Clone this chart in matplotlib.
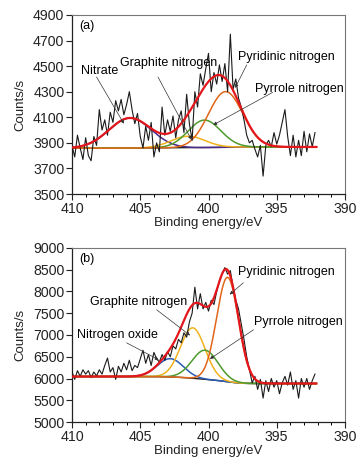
import numpy as np
import matplotlib
matplotlib.use("Agg")
import matplotlib.pyplot as plt
from matplotlib.ticker import MultipleLocator

plt.rcParams['font.family'] = ['Liberation Sans', 'DejaVu Sans']

# ---------------- data ----------------
energy_start, energy_step = 410.0, 0.2   # raw spectrum grid (eV)

raw_a = [3880, 3790, 3960, 3860, 3770, 3940, 3800, 3760, 3950, 3880,
         4160, 4000, 4080, 3960, 4140, 4060, 4230, 4150, 4240, 4120,
         4200, 4300, 4160, 4050, 4130, 3950, 3860, 4030, 3920, 4060,
         3790, 3900, 3830, 4180, 3960, 4080, 3990, 4110, 3940, 4080,
         4150, 3980, 4280, 4050, 3920, 4300, 4180, 4440, 4350, 4480,
         4600, 4300, 4450, 4360, 4510, 4380, 4520, 4300, 4750, 4320,
         4400, 4250, 4180, 4080, 3960, 3900, 3920, 3850, 3790, 3880,
         3640, 3880, 3920, 3870, 3980, 3890, 3960, 4060, 4160, 3950,
         3800, 3960, 3790, 3920, 3800, 3990, 3830, 3970, 3870, 3980]

raw_b = [6150, 5980, 6180, 6050, 6200, 6100, 6180, 6020, 6150, 6060,
         6200, 6100, 6300, 6470, 6150, 6250, 5980, 6280, 6150, 6350,
         6200, 6420, 6180, 6300, 6250, 6450, 6650, 6350, 6550, 6300,
         6600, 6450, 6380, 6550, 6420, 6620, 6500, 6750, 6680, 6900,
         6820, 7050, 6950, 7300, 7500, 8100, 7600, 7950, 7600, 7750,
         7550, 7800, 7700, 8000, 8250, 8400, 8550, 8400, 8480, 8100,
         7800, 7600, 7250, 6900, 6500, 6200, 5900, 6050, 5750, 5980,
         5550, 5950, 5700, 6000, 5800, 5950, 5650, 5900, 6050, 5850,
         6150, 5750, 5950, 5550, 6000, 5800, 6000, 5750, 5950, 6100]

# fitted components: names, centres (eV), heights (counts/s), sigmas (eV)
names_a   = ["Nitrate", "Graphite nitrogen", "Pyrrole nitrogen", "Pyridinic nitrogen"]
centers_a = [405.75, 401.5, 400.3, 398.75]
heights_a = [235, 90, 215, 435]
sigmas_a  = [1.55, 1.25, 1.2, 1.25]
colors_a  = ["#4b2a8c", "#f0b21c", "#4f9a2c", "#e0661a"]
bg_a      = (3858, 3868)      # background level at high / low BE end

names_b   = ["Nitrogen oxide", "Graphite nitrogen", "Pyrrole nitrogen", "Pyridinic nitrogen"]
centers_b = [402.8, 401.15, 400.25, 398.6]
heights_b = [420, 1160, 670, 2400]
sigmas_b  = [0.95, 0.9, 0.95, 0.8]
colors_b  = ["#2a5bb5", "#f0b21c", "#4f9a2c", "#e0661a"]
bg_b      = (6045, 5885)

yticks_a = [3500, 3700, 3900, 4100, 4300, 4500, 4700, 4900]
yticks_b = [5000, 5500, 6000, 6500, 7000, 7500, 8000, 8500, 9000]
xticks   = [410, 405, 400, 395, 390]

# ---------------- figure ----------------
W, H, DPI = 363, 467, 100
fig = plt.figure(figsize=(W / DPI, H / DPI), dpi=DPI)
ax_a = fig.add_axes([72 / W, 1 - 194 / H, 273 / W, 179 / H])
ax_b = fig.add_axes([72 / W, 1 - 422 / H, 273 / W, 174 / H])

e_fine = np.linspace(410.0, 392.1, 500)


def panel(ax, raw, centers, heights, sigmas, colors, bg, yticks):
    e_raw = energy_start - energy_step * np.arange(len(raw))
    comps = [h * np.exp(-(e_fine - c) ** 2 / (2 * s ** 2))
             for c, h, s in zip(centers, heights, sigmas)]
    total = np.sum(comps, axis=0)
    # Shirley-type background: steps from low-BE level to high-BE level
    cum = np.cumsum(total[::-1])[::-1]
    base = bg[1] + (bg[0] - bg[1]) * cum / cum[0]
    ax.plot(e_raw, raw, color="#1a1a1a", lw=0.8, zorder=3)
    ax.plot(e_fine, base, color="#222222", lw=1.0, zorder=2)
    for comp, col in zip(comps, colors):
        ax.plot(e_fine, base + comp, color=col, lw=1.1, zorder=2)
    ax.plot(e_fine, base + total, color="#e3161b", lw=1.6, zorder=4)

    ax.set_xlim(xticks[0], xticks[-1])
    ax.set_ylim(yticks[0], yticks[-1])
    ax.set_xticks(xticks)
    ax.xaxis.set_minor_locator(MultipleLocator(1))
    ax.set_yticks(yticks)
    ax.tick_params(axis='both', which='major', direction='out', length=4,
                   width=0.8, labelsize=10.2, pad=1.5, colors="#222222")
    ax.tick_params(axis='x', which='minor', direction='out', length=2.5, width=0.7)
    ax.tick_params(axis='y', which='minor', left=False)
    for side in ['left', 'bottom']:
        ax.spines[side].set_color('#222222')
        ax.spines[side].set_linewidth(0.9)
    for side in ['top', 'right']:
        ax.spines[side].set_color('#777777')
        ax.spines[side].set_linewidth(0.8)
    ax.set_xlabel("Binding energy/eV", fontsize=9.5, labelpad=1, color="#222222")
    ax.set_ylabel("Counts/s", fontsize=9.5, labelpad=5, color="#222222")


panel(ax_a, raw_a, centers_a, heights_a, sigmas_a, colors_a, bg_a, yticks_a)
panel(ax_b, raw_b, centers_b, heights_b, sigmas_b, colors_b, bg_b, yticks_b)

arrow = dict(arrowstyle='-|>', lw=0.5, color='#333333', mutation_scale=5,
             shrinkA=0, shrinkB=0)
fs = 9

ax_a.text(0.025, 0.97, "(a)", transform=ax_a.transAxes, fontsize=fs, va='top')
ax_b.text(0.025, 0.97, "(b)", transform=ax_b.transAxes, fontsize=fs, va='top')

# panel (a) labels
ax_a.annotate("", xy=(406.2, 4050), xytext=(408.2, 4415), arrowprops=arrow, zorder=5)
ax_a.text(407.95, 4460, names_a[0], fontsize=fs, ha='center', va='center', zorder=6)
ax_a.annotate("", xy=(401.25, 3925), xytext=(403.7, 4415), arrowprops=arrow, zorder=5)
ax_a.text(402.9, 4525, names_a[1], fontsize=fs, ha='center', va='center', zorder=6)
ax_a.annotate("", xy=(398.05, 4330), xytext=(397.2, 4510), arrowprops=arrow, zorder=5)
ax_a.text(394.3, 4570, names_a[3], fontsize=fs, ha='center', va='center', zorder=6)
ax_a.annotate("", xy=(399.65, 4040), xytext=(395.3, 4295), arrowprops=arrow, zorder=5)
ax_a.text(393.35, 4320, names_a[2], fontsize=fs, ha='center', va='center', zorder=6)

# panel (b) labels
ax_b.annotate("", xy=(398.45, 7930), xytext=(397.45, 8200), arrowprops=arrow, zorder=5)
ax_b.text(394.3, 8440, names_b[3], fontsize=fs, ha='center', va='center', zorder=6)
ax_b.annotate("", xy=(401.35, 6990), xytext=(403.8, 7580), arrowprops=arrow, zorder=5)
ax_b.text(405.15, 7750, names_b[1], fontsize=fs, ha='center', va='center', zorder=6)
ax_b.annotate("", xy=(399.9, 6450), xytext=(396.7, 7120), arrowprops=arrow, zorder=5)
ax_b.text(393.4, 7300, names_b[2], fontsize=fs, ha='center', va='center', zorder=6)
ax_b.annotate("", xy=(403.65, 6430), xytext=(406.0, 6820), arrowprops=arrow, zorder=5)
ax_b.text(406.65, 7010, names_b[0], fontsize=fs, ha='center', va='center', zorder=6)

fig.savefig("out.png", dpi=DPI)
